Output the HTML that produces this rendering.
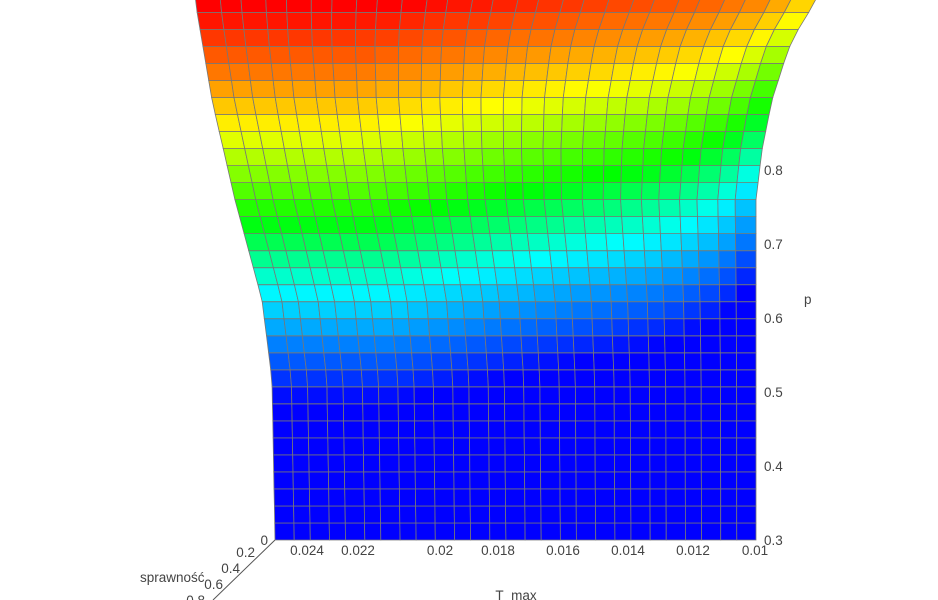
<!DOCTYPE html>
<html><head><meta charset="utf-8"><style>
body{margin:0;background:#fff;width:938px;height:600px;overflow:hidden}
svg{display:block}
text{font-family:"Liberation Sans",sans-serif;font-size:13.5px;fill:#444}
</style></head><body>
<svg id="chart" width="938" height="600">
<g id="surf"></g>
<g id="axes">
<line x1="275" y1="540" x2="213" y2="600" stroke="#555" stroke-width="1"/>
</g>
</svg>
<script>
// rows: p at each grid line (bottom to top); columns: T_max values (left to right)
const pRows=[0.3,0.323,0.346,0.369,0.392,0.415,0.438,0.461,0.484,0.507,0.53,0.553,0.576,0.599,0.622,0.645,0.668,0.691,0.714,0.737,0.76,0.783,0.806,0.829,0.852,0.875,0.898,0.921,0.944,0.967,0.99,1.013,1.036];
const tCols=[0.025,0.0244,0.0239,0.0233,0.0228,0.0222,0.0217,0.0211,0.0206,0.02,0.0194,0.0189,0.0183,0.0178,0.0172,0.0167,0.0161,0.0156,0.015,0.0144,0.0139,0.0133,0.0128,0.0122,0.0117,0.0111,0.0106,0.01];
const colShift=[0,0,0,0,0,0,0,0,-0.005,-0.01,-0.015,-0.02,-0.025,-0.03,-0.035,-0.04,-0.045,-0.05,-0.055,-0.06,-0.065,-0.07,-0.075,-0.085,-0.095,-0.11,-0.13,-0.16];
const colorP=[0.489,0.638,0.732,0.854,0.928,1.016];
const colorH=[240,180,120,60,30,0];
const xTicks=["0.024","0.022","0.02","0.018","0.016","0.014","0.012","0.01"];
const xTickX=[307,358,440,498,563,628,693,755];
const zTicks=["0.3","0.4","0.5","0.6","0.7","0.8"];
const yTicks=["0","0.2","0.4","0.6","0.8"];
const NS="http://www.w3.org/2000/svg";
function py(p){return 540-(p-0.3)*740;}
function interp(xs,ys,v){if(v<=xs[0])return ys[0];for(let i=1;i<xs.length;i++){if(v<=xs[i]){const t=(v-xs[i-1])/(xs[i]-xs[i-1]);return ys[i-1]+t*(ys[i]-ys[i-1]);}}return ys[ys.length-1];}
const Ly=[0,100,200,300,380,540],Lx=[195,212,235,262,272,275];
const Ry=[0,20,50,100,150,200,540],Rx=[818,803,788,772,762,756,756];
function pt(i,j){const y=py(pRows[i]);const l=interp(Ly,Lx,y),r=interp(Ry,Rx,y);const u=(tCols[0]-tCols[j])/(tCols[0]-tCols[tCols.length-1]);return [l+u*(r-l),y];}
function hue(z){return interp(colorP,colorH,z);}
const g=document.getElementById('surf');
for(let i=0;i<pRows.length-1;i++){for(let j=0;j<tCols.length-1;j++){
const a=pt(i,j),b=pt(i,j+1),c=pt(i+1,j+1),d=pt(i+1,j);
const z=(pRows[i]+pRows[i+1])/2+(colShift[j]+colShift[j+1])/2;
const el=document.createElementNS(NS,'polygon');
el.setAttribute('points',[a,b,c,d].map(q=>q[0].toFixed(1)+','+q[1].toFixed(1)).join(' '));
el.setAttribute('fill','hsl('+hue(z).toFixed(0)+',100%,50%)');
el.setAttribute('stroke','#777');el.setAttribute('stroke-width','0.8');


g.appendChild(el);}}
const ax=document.getElementById('axes');
function txt(x,y,s,anchor,name){const t=document.createElementNS(NS,'text');t.setAttribute('x',x);t.setAttribute('y',y);t.setAttribute('text-anchor',anchor);t.textContent=s;


ax.appendChild(t);}
xTicks.forEach((s,k)=>txt(xTickX[k],555,s,'middle','x-tick-label'));
zTicks.forEach((s,k)=>txt(764,py(0.3+k*0.1)+5,s,'start','z-tick-label'));
const yPos=[[268,545],[255,557],[240,573],[223,589],[205,605]];
yTicks.forEach((s,k)=>txt(yPos[k][0],yPos[k][1],s,'end','y-tick-label'));
txt(516,600,'T_max','middle','x-axis-title');
txt(804,304,'p','start','z-axis-title');
txt(140,582,'sprawność','start','y-axis-title');
</script>
</body></html>
